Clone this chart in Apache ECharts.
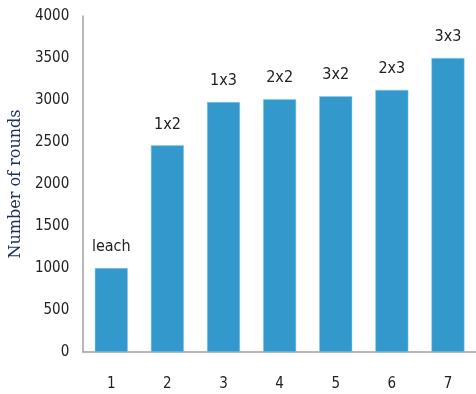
<!DOCTYPE html>
<html>
<head>
<meta charset="utf-8">
<script src="https://cdn.jsdelivr.net/npm/echarts@6/dist/echarts.min.js"></script>
<style>
  html, body { margin: 0; padding: 0; background: #fff; }
  #chart { width: 476px; height: 394px; }
</style>
</head>
<body>
<div id="chart"></div>
<script>
// data
var categories = ['1', '2', '3', '4', '5', '6', '7'];
var rounds = [1000, 2460, 2975, 3010, 3045, 3120, 3500];
var barLabels = ['leach', '1x2', '1x3', '2x2', '3x2', '2x3', '3x3'];
var yTicks = [0, 500, 1000, 1500, 2000, 2500, 3000, 3500, 4000];

var labelFont = '"Liberation Sans Narrow", "DejaVu Sans Condensed", sans-serif';

var chart = echarts.init(document.getElementById('chart'));

chart.setOption({
  animation: false,
  grid: { left: 82, top: 16, width: 399, height: 336 },
  xAxis: {
    type: 'category',
    data: categories,
    axisLine: { lineStyle: { color: '#a0a0a0', width: 1.5 } },
    axisTick: { show: false },
    axisLabel: { color: '#222', fontFamily: labelFont, fontSize: 15, margin: 25 }
  },
  yAxis: {
    type: 'value',
    min: yTicks[0],
    max: yTicks[yTicks.length - 1],
    interval: 500,
    name: 'Number of rounds',
    nameLocation: 'middle',
    nameGap: 55,
    nameTextStyle: { color: '#1f3060', fontFamily: 'DejaVu Serif', fontSize: 16 },
    axisLine: { show: true, lineStyle: { color: '#a0a0a0', width: 1.5 } },
    axisTick: { show: false },
    splitLine: { show: false },
    axisLabel: {
      color: '#222',
      fontFamily: labelFont,
      fontSize: 15,
      margin: 14,
      formatter: function (v) { return String(v); }
    }
  },
  series: [{
    type: 'bar',
    data: rounds,
    barWidth: 33,
    itemStyle: { color: '#3399cc', borderColor: '#8ccbe8', borderWidth: 0.5 },
    label: {
      show: true,
      position: 'top',
      distance: 13,
      color: '#222',
      fontFamily: labelFont,
      fontSize: 16,
      formatter: function (p) { return barLabels[p.dataIndex]; }
    }
  }]
});
</script>
</body>
</html>
